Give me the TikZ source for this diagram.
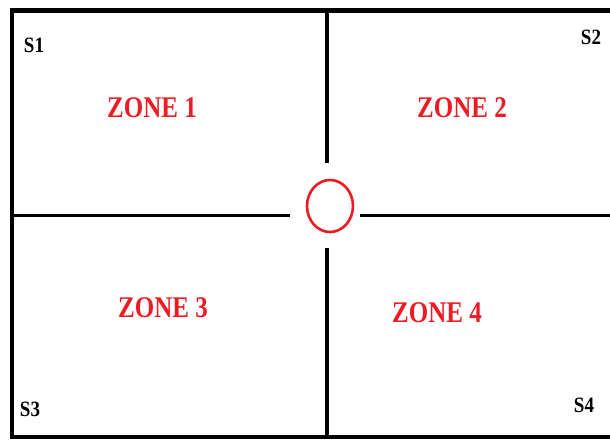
\documentclass[tikz,border=0pt]{standalone}
\usepackage{fontspec}
\setmainfont{Liberation Serif}
\usepackage{xcolor}
\usepackage{tikz}
\usetikzlibrary{shapes.geometric,positioning}

\definecolor{zonered}{RGB}{237,28,36}

\begin{document}
\begin{tikzpicture}[
  x=1pt,
  y=-1pt,
  frame/.style={draw=black, line width=4.5pt},
  wall/.style={draw=black, line width=3.5pt},
  hub/.style={ellipse, draw=zonered, line width=2.6pt, minimum width=46pt, minimum height=52pt, inner sep=0pt},
  zone/.style={text=zonered, font=\fontsize{25}{25}\selectfont\bfseries, inner sep=0pt},
  sensor/.style={text=black, font=\fontsize{19}{19}\selectfont\bfseries, inner sep=0pt}
]
  \useasboundingbox (0,0) rectangle (610,439);
  \clip (0,0) rectangle (610,439);

  % outer frame, open to the right
  \draw[frame] (625,10.5) -- (12,10.5) -- (12,437) -- (625,437);

  % centre hub
  \node[hub] (hub) at (330,206) {};

  % walls between the zones
  \coordinate (ntop) at (327,10.5);
  \coordinate (nbot) at (327,437);
  \coordinate (wleft) at (12,215.5);
  \coordinate (wright) at (625,215.5);
  \draw[wall] (ntop) -- (327,163);
  \draw[wall] (327,248) -- (nbot);
  \draw[wall] (wleft) -- (290,215.5);
  \draw[wall] (360,215.5) -- (wright);

  % zones
  \node[zone] (z1) at (152,108) {\scalebox{1}[1.2]{ZONE 1}};
  \node[zone] (z2) at (462,108) {\scalebox{1}[1.2]{ZONE 2}};
  \node[zone] (z3) at (163,308) {\scalebox{1}[1.2]{ZONE 3}};
  \node[zone] (z4) at (437,313) {\scalebox{1}[1.2]{ZONE 4}};

  % sensors
  \node[sensor] (s1) at (34,45) {\scalebox{1}[1.15]{S1}};
  \node[sensor] (s2) at (591,37) {\scalebox{1}[1.15]{S2}};
  \node[sensor] (s3) at (30,409) {\scalebox{1}[1.15]{S3}};
  \node[sensor] (s4) at (584,405) {\scalebox{1}[1.15]{S4}};
\end{tikzpicture}
\end{document}
